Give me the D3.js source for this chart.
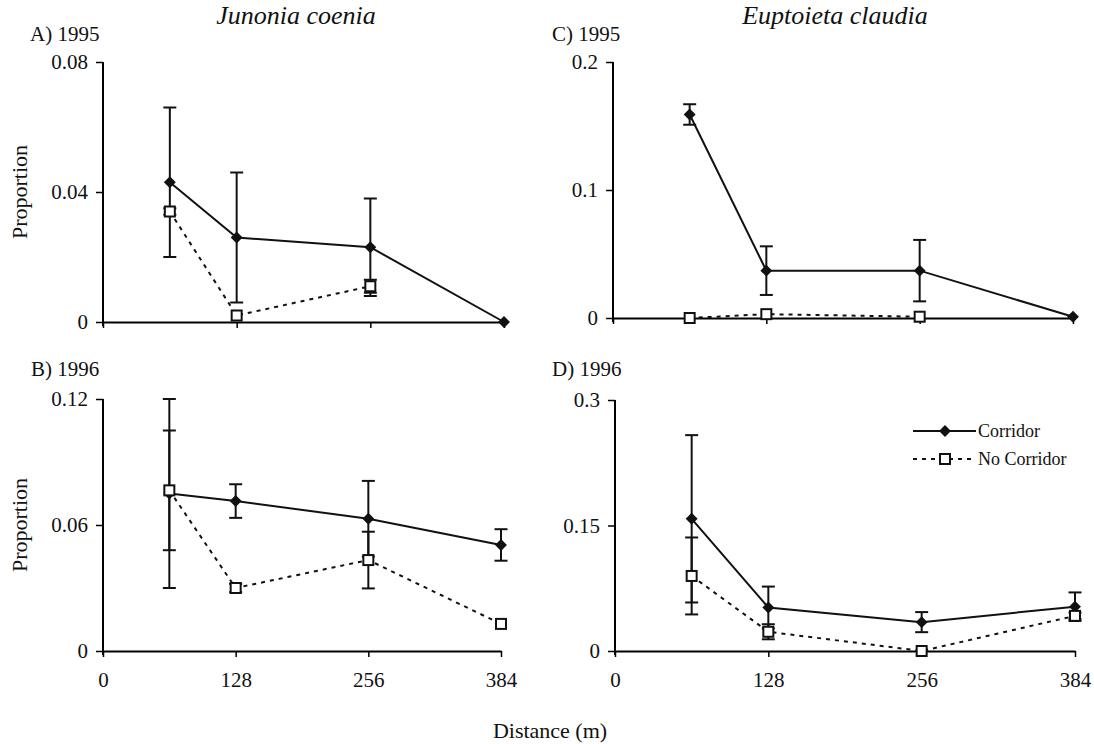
<!DOCTYPE html>
<html>
<head>
<meta charset="utf-8">
<script src="https://cdn.jsdelivr.net/npm/d3@7"></script>
<style>
  body { margin: 0; background: #fff; }
  svg text { font-family: "Liberation Serif", "Times New Roman", serif; fill: #111; }
</style>
</head>
<body>
<svg id="chart" width="1094" height="744"></svg>
<script>
// distances sampled (m) and the axis ticks
var distances = [64, 128, 256, 384];
var xTicks = [0, 128, 256, 384];

// A) Junonia coenia 1995
var junonia95Corridor = [0.043, 0.026, 0.023, 0.000];
var junonia95CorridorSE = [0.023, 0.020, 0.015, 0];
var junonia95NoCorridor = [0.034, 0.002, 0.011, null];
var junonia95NoCorridorSE = [0.001, 0, 0.002, null];

// B) Junonia coenia 1996
var junonia96Corridor = [0.075, 0.0714, 0.063, 0.0505];
var junonia96CorridorSE = [0.045, 0.008, 0.018, 0.0075];
var junonia96NoCorridor = [0.0765, 0.030, 0.0433, 0.0129];
var junonia96NoCorridorSE = [0.0285, 0.002, 0.0135, 0];

// C) Euptoieta claudia 1995
var euptoieta95Corridor = [0.159, 0.037, 0.037, 0.001];
var euptoieta95CorridorSE = [0.008, 0.019, 0.024, 0];
var euptoieta95NoCorridor = [0.000, 0.003, 0.001, null];
var euptoieta95NoCorridorSE = [0, 0, 0, null];

// D) Euptoieta claudia 1996
var euptoieta96Corridor = [0.158, 0.052, 0.0345, 0.053];
var euptoieta96CorridorSE = [0.100, 0.025, 0.012, 0.017];
var euptoieta96NoCorridor = [0.0897, 0.023, 0.000, 0.042];
var euptoieta96NoCorridorSE = [0.046, 0.009, 0, 0.004];

// y tick values per panel
var yTicksA = [0, 0.04, 0.08];
var yTicksB = [0, 0.06, 0.12];
var yTicksC = [0, 0.1, 0.2];
var yTicksD = [0, 0.15, 0.3];

var svg = d3.select("#chart");

var panels = [
  { label: "A) 1995", lx: 30, ly: 41, x0: 103, x1: 504, yTop: 62, yBot: 322, yMax: 0.08, ticks: yTicksA,
    c: junonia95Corridor, cse: junonia95CorridorSE, n: junonia95NoCorridor, nse: junonia95NoCorridorSE, xLabels: false, yTitle: true },
  { label: "B) 1996", lx: 31, ly: 376, x0: 103, x1: 501, yTop: 399, yBot: 651, yMax: 0.12, ticks: yTicksB,
    c: junonia96Corridor, cse: junonia96CorridorSE, n: junonia96NoCorridor, nse: junonia96NoCorridorSE, xLabels: true, yTitle: true },
  { label: "C) 1995", lx: 552, ly: 41, x0: 613, x1: 1073, yTop: 62, yBot: 318, yMax: 0.2, ticks: yTicksC,
    c: euptoieta95Corridor, cse: euptoieta95CorridorSE, n: euptoieta95NoCorridor, nse: euptoieta95NoCorridorSE, xLabels: false, yTitle: false },
  { label: "D) 1996", lx: 552, ly: 376, x0: 615, x1: 1075, yTop: 400, yBot: 651, yMax: 0.3, ticks: yTicksD,
    c: euptoieta96Corridor, cse: euptoieta96CorridorSE, n: euptoieta96NoCorridor, nse: euptoieta96NoCorridorSE, xLabels: true, yTitle: false }
];

var diamond = d3.symbol().type(d3.symbolDiamond2).size(90);

var drawPanel = function(p){
  var x = d3.scaleLinear().domain([0, 384]).range([p.x0, p.x1]);
  var y = d3.scaleLinear().domain([0, p.yMax]).range([p.yBot, p.yTop]);
  var g = svg.append("g");

  g.append("text").attr("x", p.lx).attr("y", p.ly).attr("font-size", 21).text(p.label);

  // y axis
  var ya = g.append("g").attr("transform", "translate(" + p.x0 + ",0)")
    .call(d3.axisLeft(y).tickValues(p.ticks).tickSize(7).tickSizeOuter(0).tickPadding(8)
      .tickFormat(function(d){ return d === 0 ? "0" : String(d); }));
  ya.select(".domain").attr("stroke-width", 2).attr("d", "M0," + p.yTop + "V" + (p.yBot + 4));
  ya.selectAll(".tick line").attr("stroke-width", 1.5);
  ya.selectAll(".tick text").attr("font-size", 21).attr("fill", "#111");

  // x axis
  var xa = g.append("g").attr("transform", "translate(0," + p.yBot + ")")
    .call(d3.axisBottom(x).tickValues(xTicks).tickSize(6).tickSizeOuter(0).tickPadding(15)
      .tickFormat(p.xLabels ? d3.format("d") : ""));
  xa.select(".domain").attr("stroke-width", 2);
  xa.selectAll(".tick line").attr("stroke-width", 1.5);
  xa.selectAll(".tick text").attr("font-size", 21).attr("fill", "#111");

  if (p.yTitle) {
    g.append("text")
      .attr("transform", "translate(27," + ((p.yTop + p.yBot) / 2) + ") rotate(-90)")
      .attr("text-anchor", "middle").attr("font-size", 22).text("Proportion");
  }

  var series = [
    { v: p.c, se: p.cse, dash: null, mark: "diamond" },
    { v: p.n, se: p.nse, dash: "4,5", mark: "square" }
  ];

  series.forEach(function(s){
    var pts = distances.map(function(d, i){ return { d: d, v: s.v[i], e: s.se[i] }; })
      .filter(function(o){ return o.v !== null; });

    var line = d3.line().x(function(o){ return x(o.d); }).y(function(o){ return y(o.v); });
    g.append("path").datum(pts).attr("d", line)
      .attr("fill", "none").attr("stroke", "#111").attr("stroke-width", 2)
      .attr("stroke-dasharray", s.dash);

    // error bars
    pts.filter(function(o){ return o.e > 0; }).forEach(function(o){
      var cx = x(o.d), top = y(o.v + o.e), bot = y(o.v - o.e);
      g.append("line").attr("x1", cx).attr("x2", cx).attr("y1", top).attr("y2", bot)
        .attr("stroke", "#111").attr("stroke-width", 2);
      [top, bot].forEach(function(yy){
        g.append("line").attr("x1", cx - 6.5).attr("x2", cx + 6.5).attr("y1", yy).attr("y2", yy)
          .attr("stroke", "#111").attr("stroke-width", 2);
      });
    });

    s.pts = pts;
  });

  // markers on top
  series.forEach(function(s){
    s.pts.forEach(function(o){
      if (s.mark === "diamond") {
        g.append("path").attr("d", diamond)
          .attr("transform", "translate(" + x(o.d) + "," + y(o.v) + ")")
          .attr("fill", "#111");
      } else {
        g.append("rect").attr("x", x(o.d) - 5).attr("y", y(o.v) - 5)
          .attr("width", 10).attr("height", 10)
          .attr("fill", "#fff").attr("stroke", "#111").attr("stroke-width", 2);
      }
    });
  });
};

panels.forEach(drawPanel);

// species titles
svg.append("text").attr("x", 296).attr("y", 24).attr("text-anchor", "middle")
  .attr("font-size", 26).attr("font-style", "italic").text("Junonia coenia");
svg.append("text").attr("x", 835).attr("y", 24).attr("text-anchor", "middle")
  .attr("font-size", 26).attr("font-style", "italic").text("Euptoieta claudia");

// shared x title
svg.append("text").attr("x", 550).attr("y", 738).attr("text-anchor", "middle")
  .attr("font-size", 22).text("Distance (m)");

// legend
var leg = svg.append("g");
leg.append("line").attr("x1", 913).attr("x2", 976).attr("y1", 431).attr("y2", 431)
  .attr("stroke", "#111").attr("stroke-width", 2);
leg.append("path").attr("d", diamond).attr("transform", "translate(945,431)").attr("fill", "#111");
leg.append("text").attr("x", 978).attr("y", 437).attr("font-size", 18).text("Corridor");
leg.append("line").attr("x1", 913).attr("x2", 976).attr("y1", 459).attr("y2", 459)
  .attr("stroke", "#111").attr("stroke-width", 2).attr("stroke-dasharray", "4,5");
leg.append("rect").attr("x", 940).attr("y", 454).attr("width", 10).attr("height", 10)
  .attr("fill", "#fff").attr("stroke", "#111").attr("stroke-width", 2);
leg.append("text").attr("x", 978).attr("y", 465).attr("font-size", 18).text("No Corridor");
</script>
</body>
</html>
